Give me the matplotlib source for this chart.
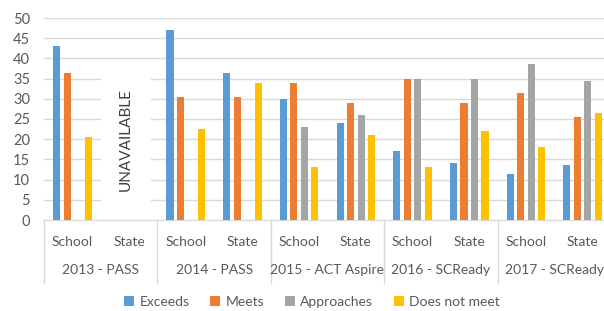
import numpy as np
import matplotlib.pyplot as plt
from matplotlib.patches import Patch

plt.rcParams['font.family'] = ['Lato', 'DejaVu Sans']

# data
categories = ['School', 'State'] * 5
years = ['2013 - PASS', '2014 - PASS', '2015 - ACT Aspire', '2016 - SCReady', '2017 - SCReady']
series = ['Exceeds', 'Meets', 'Approaches', 'Does not meet']
exceeds = [43, np.nan, 47, 36.5, 30, 24, 17, 14, 11.5, 13.5]
meets = [36.5, np.nan, 30.5, 30.5, 34, 29, 35, 29, 31.5, 25.5]
approaches = [np.nan, np.nan, np.nan, np.nan, 23, 26, 35, 35, 38.5, 34.5]
does_not_meet = [20.5, np.nan, 22.5, 34, 13, 21, 13, 22, 18, 26.5]
colors = ['#5B9BD5', '#ED7D31', '#A5A5A5', '#FFC000']

TEXT = '#595959'


def main():
    fig = plt.figure(figsize=(6.04, 3.11), dpi=100)
    ax = fig.add_axes([44 / 604, 91 / 311, 567 / 604, 202 / 311])

    x = np.arange(len(categories))
    step = 0.185
    width = 0.125
    for k, (vals, c) in enumerate(zip([exceeds, meets, approaches, does_not_meet], colors)):
        ax.bar(x + (k - 1.5) * step, vals, width=width, color=c, zorder=3)

    ax.set_xlim(-0.5, len(categories) - 0.5)
    ax.set_ylim(0, 50)
    ax.set_yticks(range(0, 51, 5))
    ax.tick_params(axis='y', length=0, labelsize=10.5, labelcolor=TEXT, pad=10)
    ax.set_xticks([])
    ax.grid(axis='y', color='#D9D9D9', linewidth=1, zorder=0)
    for s in ['top', 'right', 'left']:
        ax.spines[s].set_visible(False)
    ax.spines['bottom'].set_color('#D9D9D9')

    # UNAVAILABLE note for 2013 State
    ax.text(0.95, 20, 'UNAVAILABLE', rotation=90, ha='center', va='center',
            fontsize=11, color='#404040', zorder=4,
            bbox=dict(facecolor='white', edgecolor='none', pad=13))

    # two-level category axis
    trans = ax.get_xaxis_transform()
    for i, cat in enumerate(categories):
        ax.text(i, -0.11, cat, transform=trans, ha='center', va='center',
                fontsize=10, color=TEXT)
    for j, yr in enumerate(years):
        ax.text(2 * j + 0.5, -0.25, yr, transform=trans, ha='center', va='center',
                fontsize=10, color=TEXT)
    for j in range(len(years) + 1):
        ax.plot([2 * j - 0.5, 2 * j - 0.5], [0, -0.31], transform=trans,
                color='#D9D9D9', linewidth=1, clip_on=False)

    handles = [Patch(facecolor=c, label=s) for c, s in zip(colors, series)]
    fig.legend(handles=handles, loc='center', bbox_to_anchor=(312 / 604, 9 / 311),
               ncol=4, frameon=False, fontsize=10, handlelength=0.7,
               handleheight=0.7, handletextpad=0.4, columnspacing=1.5,
               labelcolor=TEXT)

    fig.savefig('out.png', dpi=100)


if __name__ == '__main__':
    main()
